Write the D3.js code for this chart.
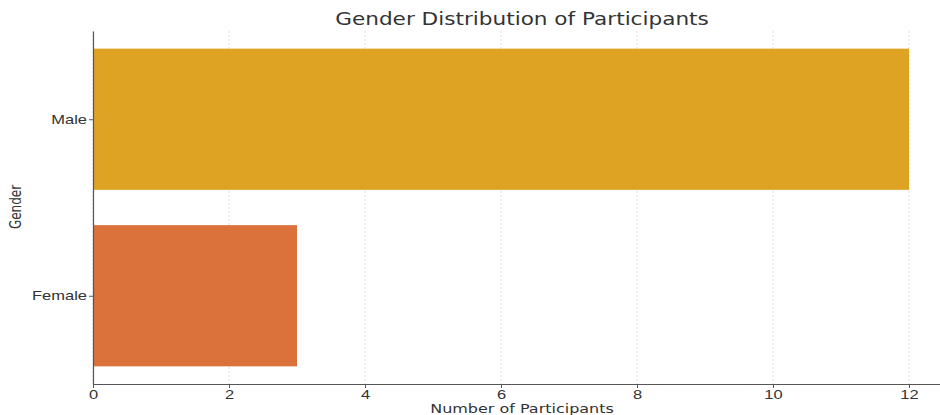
<!DOCTYPE html>
<html>
<head>
<meta charset="utf-8">
<script src="https://cdn.jsdelivr.net/npm/d3@7"></script>
<style>
  body { margin: 0; background: #fff; }
  svg { font-family: "DejaVu Sans", sans-serif; }
</style>
</head>
<body>
<svg id="chart" width="940" height="415"></svg>
<script>
const categories = ['Female', 'Male']
const counts = [3, 12]
const barColors = ['#DB723C', '#DEA322']
const xTicks = [0, 2, 4, 6, 8, 10, 12]

// the reference picture is stretched sideways, so the text is too
const stretch = 1.27

const svg = d3.select('#chart')
const margin = {left: 93, top: 31, bottom: 384}

const x = d3.scaleLinear().domain([0, 12.6]).range([margin.left, margin.left + 12.6 * 68])
// categorical axis: positions 0..n-1, bars 0.8 wide
const y = d3.scaleLinear().domain([-0.5, 1.5]).range([margin.bottom, margin.top])
const barH = y(0) - y(0.8)

// grid
svg.append('g')
  .selectAll('line')
  .data(xTicks)
  .join('line')
  .attr('x1', d => x(d)).attr('x2', d => x(d))
  .attr('y1', margin.top).attr('y2', margin.bottom)
  .attr('stroke', '#d4d4d4')
  .attr('stroke-width', 0.8)
  .attr('stroke-dasharray', '2,2')

// bars
svg.append('g')
  .selectAll('rect')
  .data(counts)
  .join('rect')
  .attr('x', x(0))
  .attr('y', (d, i) => y(i + 0.4))
  .attr('width', d => x(d) - x(0))
  .attr('height', barH)
  .attr('fill', (d, i) => barColors[i])

// x axis
const xAxis = svg.append('g')
  .attr('transform', `translate(0,${margin.bottom})`)
  .call(d3.axisBottom(x).tickValues(xTicks).tickSize(4).tickPadding(2).tickSizeOuter(0))
xAxis.select('.domain').attr('stroke', '#555').attr('stroke-width', 1.2).attr('d', `M${margin.left},0.5H940`)
xAxis.selectAll('.tick line').attr('stroke', '#555')
xAxis.selectAll('.tick text')
  .attr('fill', '#333')
  .style('font-size', '13px')
  .attr('transform', `scale(${stretch},1)`)

// y axis
const yAxis = svg.append('g')
  .attr('transform', `translate(${margin.left},0)`)
  .call(d3.axisLeft(y).tickValues([0, 1]).tickFormat(i => categories[i]).tickSize(4).tickPadding(4).tickSizeOuter(0))
yAxis.select('.domain').attr('stroke', '#555').attr('stroke-width', 1.2)
yAxis.selectAll('.tick line').attr('stroke', '#555')
yAxis.selectAll('.tick text')
  .attr('fill', '#333')
  .style('font-size', '13px')
  .attr('x', -6 / stretch)
  .attr('transform', `scale(${stretch},1)`)

// titles
svg.append('text')
  .attr('transform', `translate(522,25) scale(${stretch},1)`)
  .attr('text-anchor', 'middle')
  .attr('fill', '#333')
  .style('font-size', '17px')
  .text('Gender Distribution of Participants')

svg.append('text')
  .attr('transform', `translate(522,413) scale(${stretch - 0.04},1)`)
  .attr('text-anchor', 'middle')
  .attr('fill', '#333')
  .style('font-size', '13px')
  .text('Number of Participants')

svg.append('text')
  .attr('transform', `translate(21,207) scale(${stretch},1) rotate(-90)`)
  .attr('text-anchor', 'middle')
  .attr('fill', '#333')
  .style('font-size', '12px')
  .text('Gender')
</script>
</body>
</html>
